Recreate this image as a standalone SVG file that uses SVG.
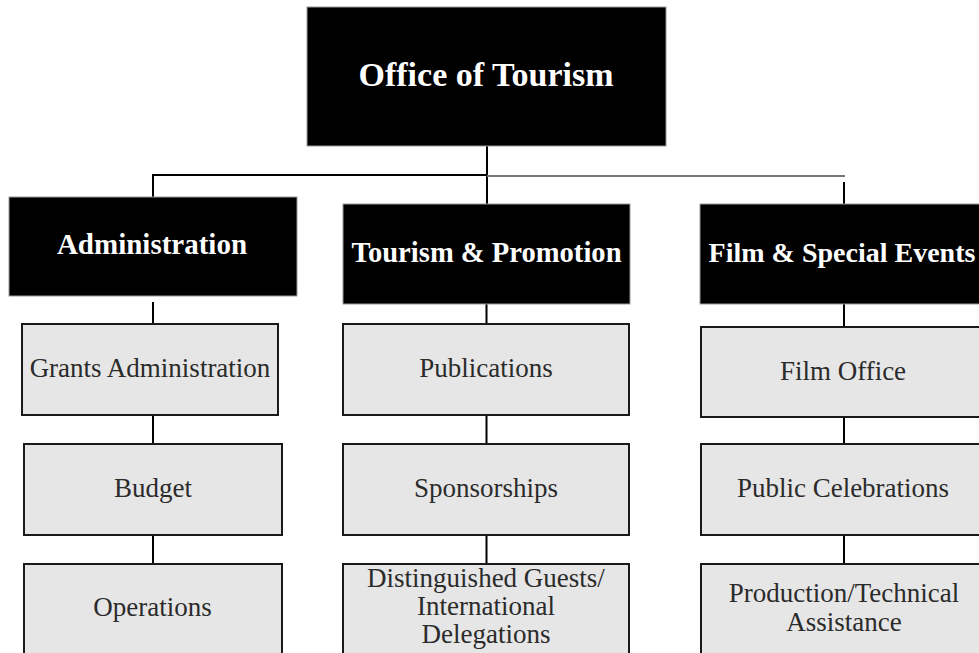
<svg xmlns="http://www.w3.org/2000/svg" width="979" height="653" viewBox="0 0 979 653">
<style>
.hdr{fill:#000;stroke:#999;stroke-width:1}
.sub{fill:#e6e6e6;stroke:#1a1a1a;stroke-width:2}
.ht{font-family:"Liberation Serif","Times New Roman",serif;font-weight:bold;fill:#fff;text-anchor:middle}
.st{font-family:"Liberation Serif","Times New Roman",serif;font-size:27px;fill:#2b2b2b;text-anchor:middle}
.c{stroke:#000;stroke-width:2;fill:none}
.cg{stroke:#777;stroke-width:2;fill:none}
</style>
<rect width="979" height="653" fill="#fff"/>
<g id="connectors">
<path class="c" d="M487 146V204M152 175H487M153 175V197"/>
<path class="cg" d="M487 176H845"/>
<path class="c" d="M844 182V204"/>
<path class="c" d="M153 302V324M153 411V444M153 535V564"/>
<path class="c" d="M486.5 304V324M486.5 411V444M486.5 535V564"/>
<path class="c" d="M844 304V327M844 413V444M844 535V564"/>
</g>
<g id="office-of-tourism">
<rect class="hdr" x="307" y="7" width="359" height="139"/>
<text class="ht" x="486" y="86" font-size="34">Office of Tourism</text>
</g>
<g id="administration">
<rect class="hdr" x="9" y="197" width="288" height="99"/>
<text class="ht" x="152" y="254" font-size="29">Administration</text>
</g>
<g id="tourism-promotion">
<rect class="hdr" x="343" y="204" width="287" height="100"/>
<text class="ht" x="486.5" y="262" font-size="28.6">Tourism &amp; Promotion</text>
</g>
<g id="film-special-events">
<rect class="hdr" x="700" y="204" width="290" height="100"/>
<text class="ht" x="842" y="262" font-size="28">Film &amp; Special Events</text>
</g>
<g id="grants-administration">
<rect class="sub" x="22" y="324" width="256" height="91"/>
<text class="st" x="150" y="377">Grants Administration</text>
</g>
<g id="budget">
<rect class="sub" x="24" y="444" width="258" height="91"/>
<text class="st" x="153" y="497">Budget</text>
</g>
<g id="operations">
<rect class="sub" x="24" y="564" width="258" height="100"/>
<text class="st" x="152.5" y="616">Operations</text>
</g>
<g id="publications">
<rect class="sub" x="343" y="324" width="286" height="91"/>
<text class="st" x="486" y="377">Publications</text>
</g>
<g id="sponsorships">
<rect class="sub" x="343" y="444" width="286" height="91"/>
<text class="st" x="486" y="497">Sponsorships</text>
</g>
<g id="distinguished-guests">
<rect class="sub" x="343" y="564" width="286" height="100"/>
<text class="st" x="486" y="587">Distinguished Guests/</text>
<text class="st" x="486" y="615">International</text>
<text class="st" x="486" y="643">Delegations</text>
</g>
<g id="film-office">
<rect class="sub" x="701" y="327" width="290" height="90"/>
<text class="st" x="843" y="380">Film Office</text>
</g>
<g id="public-celebrations">
<rect class="sub" x="701" y="444" width="290" height="91"/>
<text class="st" x="843" y="497">Public Celebrations</text>
</g>
<g id="production-technical">
<rect class="sub" x="701" y="564" width="290" height="100"/>
<text class="st" x="844" y="602">Production/Technical</text>
<text class="st" x="844" y="631">Assistance</text>
</g>
</svg>
